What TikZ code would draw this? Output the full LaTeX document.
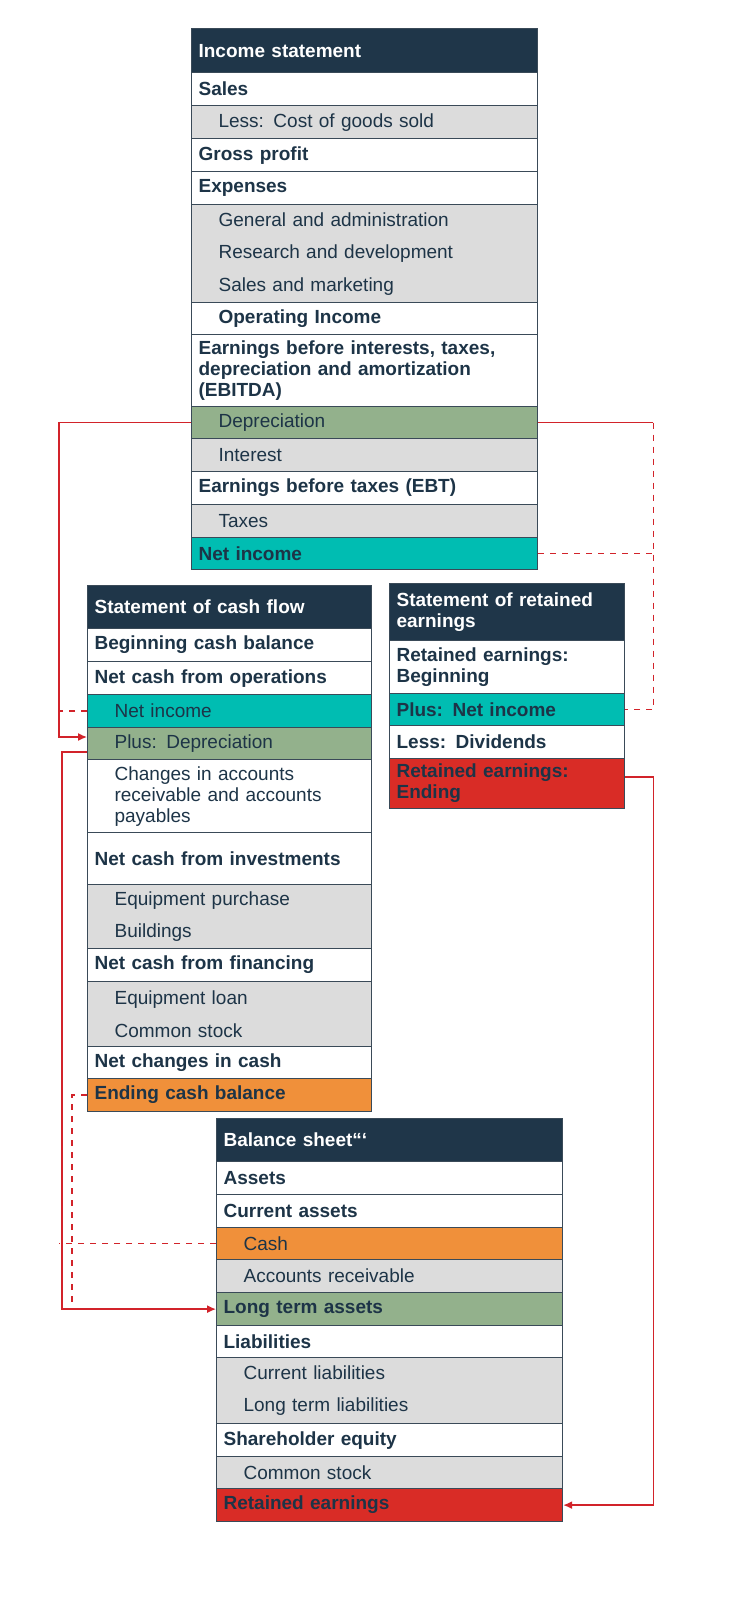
\documentclass[tikz,border=0pt]{standalone}
\usepackage{fontspec}
\setmainfont{Liberation Sans}
\usetikzlibrary{arrows.meta}
\definecolor{hd}{HTML}{1F3649}
\definecolor{tx}{HTML}{1D3447}
\definecolor{gr}{HTML}{DCDCDC}
\definecolor{gn}{HTML}{93B18C}
\definecolor{tl}{HTML}{00BDB2}
\definecolor{og}{HTML}{F0903A}
\definecolor{rd}{HTML}{D92C26}
\definecolor{ln}{HTML}{D2232A}
\definecolor{bd}{HTML}{3A4A58}
\newcommand\ind{\hspace*{10pt}}
\newcommand\rc[6]{\node[cell,#5,fill=#4,minimum height=#3pt] (#1) at (#2) {#6};}
\begin{document}
\begin{tikzpicture}[x=0.5pt,y=-0.5pt,
  cell/.style={draw=bd,line width=0.6pt,anchor=north west,inner ysep=0pt,inner xsep=3.5pt,align=left,text=tx,
    font=\fontsize{9.5}{10.5}\selectfont},
  wIS/.style={text width=166pt},
  wCF/.style={text width=135pt},
  wRE/.style={text width=110.5pt},
  hdr/.style={text=white,font=\fontsize{9.5}{10.5}\selectfont\bfseries},
  rl/.style={draw=ln,line width=0.7pt},
  ar/.style={-{Latex[length=4.5pt,width=4pt]}}]
\useasboundingbox (0,0) rectangle (737,1597);
% Income statement
\rc{ish}{191,28}{22}{hd}{wIS,hdr}{Income statement}
\rc{is1}{191,72}{16.5}{white}{wIS}{\textbf{Sales}}
\rc{is2}{191,105}{16.5}{gr}{wIS}{\ind Less: Cost of goods sold}
\rc{is3}{191,138}{16.5}{white}{wIS}{\textbf{Gross profit}}
\rc{is4}{191,171}{16.5}{white}{wIS}{\textbf{Expenses}}
\rc{is5}{191,204}{49}{gr}{wIS}{\ind General and administration\\[5.75pt]\ind Research and development\\[5.75pt]\ind Sales and marketing}
\rc{is6}{191,302}{16}{white}{wIS}{\ind\textbf{Operating Income}}
\rc{is7}{191,334}{36}{white}{wIS}{\textbf{Earnings before interests, taxes,}\\\textbf{depreciation and amortization}\\\textbf{(EBITDA)}}
\rc{isdep}{191,406}{16}{gn}{wIS}{\ind Depreciation}
\rc{is9}{191,438}{16.5}{gr}{wIS}{\ind Interest}
\rc{is10}{191,471}{16.5}{white}{wIS}{\textbf{Earnings before taxes (EBT)}}
\rc{is11}{191,504}{16.5}{gr}{wIS}{\ind Taxes}
\rc{isni}{191,537}{16}{tl}{wIS}{\textbf{Net income}}
% Cash flow
\rc{cfh}{87,585}{21.5}{hd}{wCF,hdr}{Statement of cash flow}
\rc{cf1}{87,628}{16.5}{white}{wCF}{\textbf{Beginning cash balance}}
\rc{cf2}{87,661}{16.5}{white}{wCF}{\textbf{Net cash from operations}}
\rc{cfni}{87,694}{16.5}{tl}{wCF}{\ind Net income}
\rc{cfdep}{87,727}{16}{gn}{wCF}{\ind Plus: Depreciation}
\rc{cf5}{87,759}{36.5}{white}{wCF}{\ind Changes in accounts\\\ind receivable and accounts\\\ind payables}
\rc{cf6}{87,832}{26}{white}{wCF}{\textbf{Net cash from investments}}
\rc{cf7}{87,884}{32}{gr}{wCF}{\ind Equipment purchase\\[5.75pt]\ind Buildings}
\rc{cf8}{87,948}{16.5}{white}{wCF}{\textbf{Net cash from financing}}
\rc{cf9}{87,981}{32.5}{gr}{wCF}{\ind Equipment loan\\[5.75pt]\ind Common stock}
\rc{cf10}{87,1046}{16}{white}{wCF}{\textbf{Net changes in cash}}
\rc{cfend}{87,1078}{16.5}{og}{wCF}{\textbf{Ending cash balance}}
% Retained earnings
\rc{reh}{389,583}{28.5}{hd}{wRE,hdr}{Statement of retained\\earnings}
\rc{re1}{389,640}{26.5}{white}{wRE}{\textbf{Retained earnings:}\\\textbf{Beginning}}
\rc{reni}{389,693}{16}{tl}{wRE}{\textbf{Plus: Net income}}
\rc{re3}{389,725}{16.5}{white}{wRE}{\textbf{Less: Dividends}}
\rc{reend}{389,758}{25}{rd}{wRE}{\textbf{Retained earnings:}\\\textbf{Ending}}
% Balance sheet
\rc{bsh}{216,1118}{21.5}{hd}{wIS,hdr}{Balance sheet```}
\rc{bs1}{216,1161}{16.5}{white}{wIS}{\textbf{Assets}}
\rc{bs2}{216,1194}{16.5}{white}{wIS}{\textbf{Current assets}}
\rc{bscash}{216,1227}{16}{og}{wIS}{\ind Cash}
\rc{bs4}{216,1259}{16.5}{gr}{wIS}{\ind Accounts receivable}
\rc{bslt}{216,1292}{16.5}{gn}{wIS}{\textbf{Long term assets}}
\rc{bs6}{216,1325}{16}{white}{wIS}{\textbf{Liabilities}}
\rc{bs7}{216,1357}{33}{gr}{wIS}{\ind Current liabilities\\[5.75pt]\ind Long term liabilities}
\rc{bs8}{216,1423}{16.5}{white}{wIS}{\textbf{Shareholder equity}}
\rc{bs9}{216,1456}{16}{gr}{wIS}{\ind Common stock}
\rc{bsre}{216,1488}{16.5}{rd}{wIS}{\textbf{Retained earnings}}
% connectors
\draw[rl,ar] (isdep.west) -- ++(-66pt,0) |- ([yshift=-5pt]cfdep.north west);
\draw[rl,dashed] (cfni.west) -- ++(-14pt,0);
\draw[rl] (isdep.east) -- ++(57.5pt,0) coordinate (rc1);
\draw[rl,dashed] (rc1) -- (rc1 |- reni.east) -- (reni.east);
\draw[rl,dashed] (isni.east) -- (isni.east -| rc1);
\draw[rl,ar] ([yshift=-12.5pt]cfdep.north west) -- ++(-12.5pt,0) |- (bslt.west);
\draw[rl,dashed] (cfend.west) -- ++(-7.5pt,0) coordinate (d1) -- (d1 |- bslt.west);
\draw[rl,dashed] (bscash.west) -- ++(-78.5pt,0);
\draw[rl,ar] ([yshift=-9.5pt]reend.north east) -- ++(14pt,0) |- (bsre.east);
\end{tikzpicture}
\end{document}
